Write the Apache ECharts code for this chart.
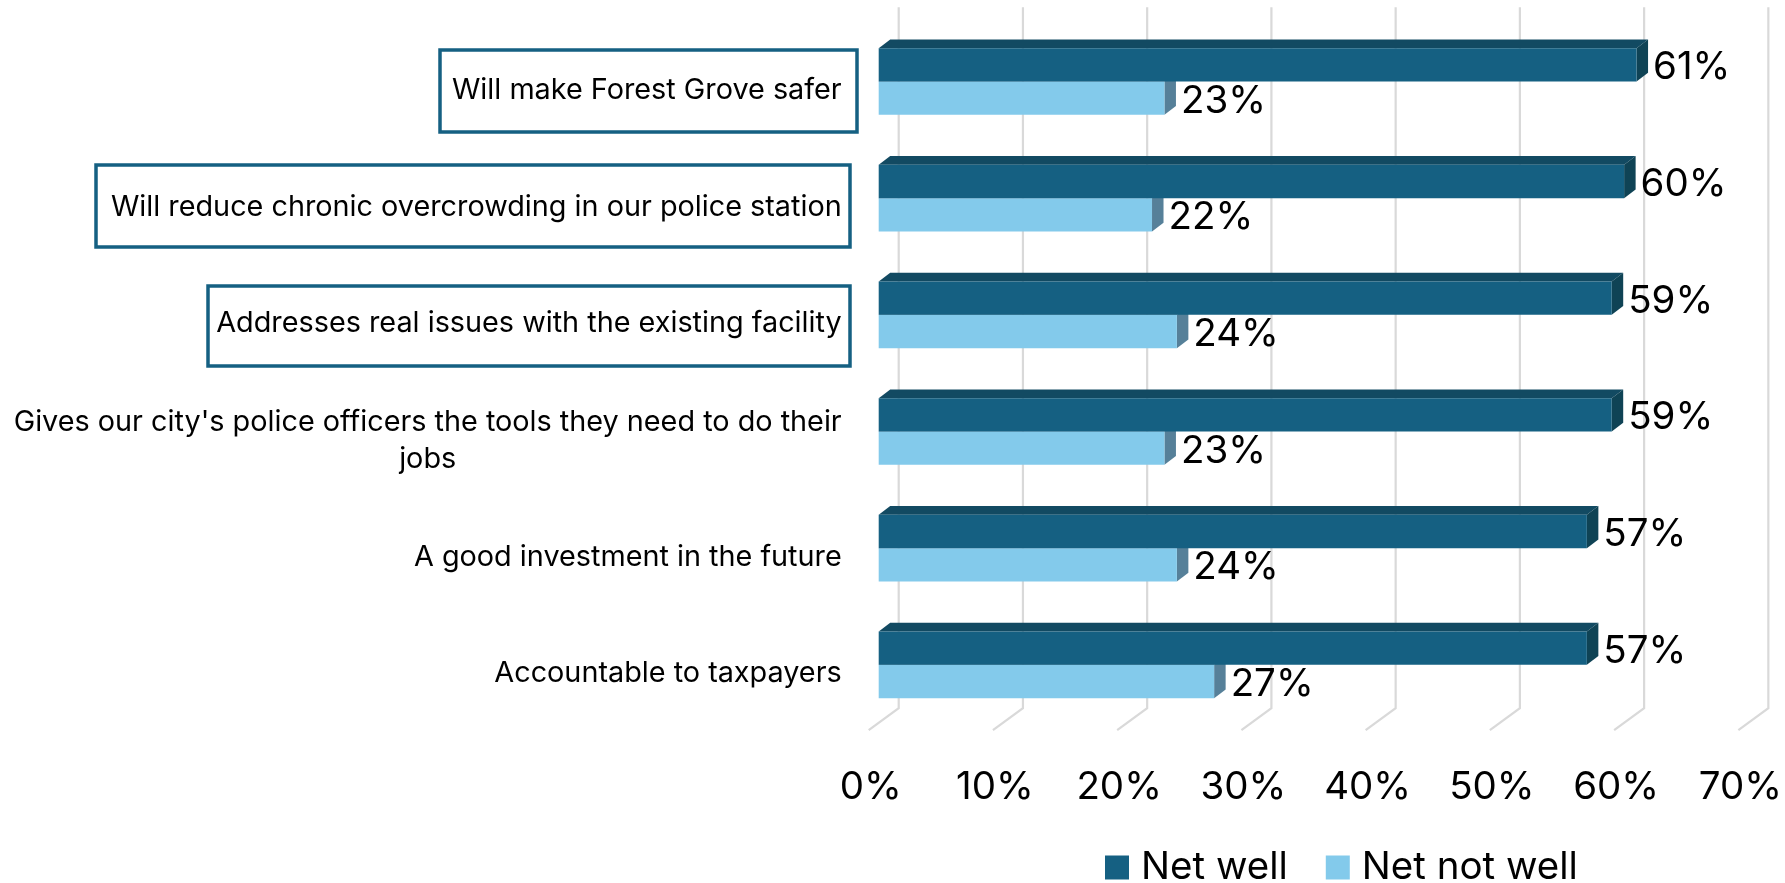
<!DOCTYPE html>
<html><head><meta charset="utf-8">
<style>html,body{margin:0;padding:0;background:#fff}#c{width:1785px;height:883px}</style>
<script src="https://cdn.jsdelivr.net/npm/echarts@6/dist/echarts.min.js"></script>
</head><body><div id="c"></div>
<script>
const categories = [
  "Will make Forest Grove safer",
  "Will reduce chronic overcrowding in our police station",
  "Addresses real issues with the existing facility",
  "Gives our city's police officers the tools they need to do their\njobs",
  "A good investment in the future",
  "Accountable to taxpayers"
];
const netWell = [61, 60, 59, 59, 57, 57];
const netNotWell = [23, 22, 24, 23, 24, 27];
const xTicks = [0, 10, 20, 30, 40, 50, 60, 70];

const FONT = 'Inter, "Liberation Sans", Arial, sans-serif';
const BIG = 38.5, SMALL = 28.8;
const DX = 11.5, DY = 8.7;

function barSeries(name, values, pos, front, top, side, z) {
  return {
    name, type: 'custom', coordinateSystem: 'cartesian2d', z,
    itemStyle: { color: front },
    encode: { x: 0, y: 1 },
    data: values.map((v, i) => [v, i]),
    renderItem(params, api) {
      const v = api.value(0), c = api.value(1);
      const end = api.coord([v, c]), start = api.coord([0, c]);
      const h = api.size([0, 1])[1] * 0.2857;
      const y0 = pos < 0 ? end[1] - h : end[1], y1 = y0 + h;
      const x0 = start[0], x1 = end[0];
      const kids = [
        { type: 'polygon', shape: { points: [[x0, y0], [x0 + DX, y0 - DY], [x1 + DX, y0 - DY], [x1, y0]] }, style: { fill: top } },
        { type: 'polygon', shape: { points: [[x1, y0], [x1 + DX, y0 - DY], [x1 + DX, y1 - DY], [x1, y1]] }, style: { fill: side } },
        { type: 'rect', shape: { x: x0, y: y0, width: x1 - x0, height: h }, style: { fill: front } },
        { type: 'text', x: x1 + 16.5, y: (y0 + y1) / 2 + 3, z2: 50,
          style: { text: v + '%', fill: '#000', font: BIG + 'px ' + FONT, textAlign: 'left', textVerticalAlign: 'middle' } }
      ];
      return { type: 'group', children: kids };
    }
  };
}

const option = {
  animation: false,
  backgroundColor: '#fff',
  grid: { left: 878.7, top: 23.15, width: 871.2, height: 700 },
  xAxis: {
    type: 'value', min: 0, max: 70, interval: 10,
    axisLine: { show: false }, axisTick: { show: false }, splitLine: { show: false },
    axisLabel: { formatter: '{value}%', color: '#000', fontFamily: FONT, fontSize: BIG, margin: 45, padding: [0, 16, 0, 0] }
  },
  yAxis: {
    type: 'category', data: categories, inverse: true,
    axisLine: { show: false }, axisTick: { show: false },
    axisLabel: {
      color: '#000', fontFamily: FONT, fontSize: SMALL, lineHeight: 37, margin: 37, interval: 0,
      padding: [18, 0, 0, 0],
      formatter: s => s.split('\n').map(l => '{c|' + l + '}').join('\n'),
      rich: { c: { align: 'center', color: '#000', fontFamily: FONT, fontSize: SMALL, lineHeight: 37 } }
    }
  },
  legend: {
    left: 1105, top: 848, padding: 0, itemWidth: 24, itemHeight: 24, itemGap: 38, icon: 'rect',
    textStyle: { color: '#000', fontFamily: FONT, fontSize: BIG, padding: [0, 0, 0, 7] },
    data: ['Net well', 'Net not well'], selectedMode: false
  },
  graphic: [
    [440, 50, 417, 82], [96, 165, 754, 82], [208, 286, 642, 80]
  ].map(b => ({ type: 'rect', silent: true, z: 100,
    shape: { x: b[0], y: b[1], width: b[2], height: b[3] },
    style: { fill: 'none', stroke: '#156082', lineWidth: 3.5 } })),
  series: [
    { name: 'grid', type: 'custom', z: 1, silent: true, encode: { x: 0 },
      data: xTicks.map(t => [t]),
      renderItem(params, api) {
        const x = api.coord([api.value(0), 0])[0];
        const cs = params.coordSys;
        const floorY = cs.y + cs.height - 15;
        return { type: 'polyline',
          shape: { points: [[x + 20, cs.y - 16], [x + 20, floorY], [x - 10, floorY + 22]] },
          style: { stroke: '#D9D9D9', lineWidth: 2.2, fill: 'none' } };
      }
    },
    barSeries('Net not well', netNotWell, 1, '#83CAEB', '#5A8299', '#568099', 2),
    barSeries('Net well', netWell, -1, '#156082', '#124A62', '#0F4355', 3)
  ]
};
echarts.init(document.getElementById('c'), null, { renderer: 'canvas' }).setOption(option);
</script></body></html>
